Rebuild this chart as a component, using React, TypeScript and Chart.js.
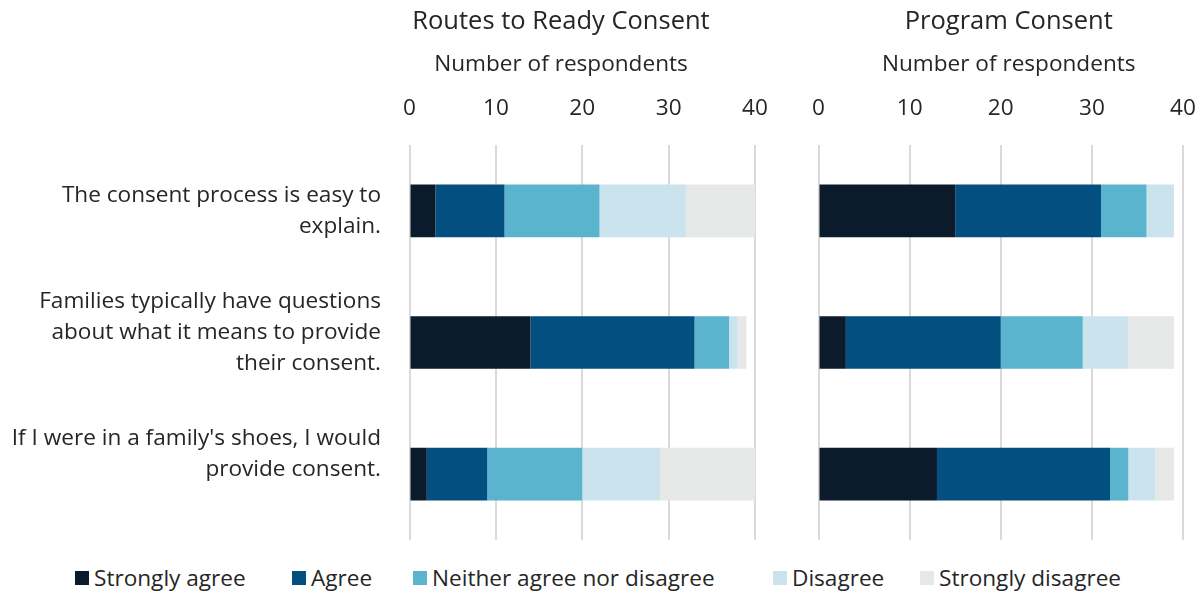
import React, { useEffect, useRef } from "react";
import { Chart, registerables } from "chart.js";

Chart.register(...registerables);

const categories: string[][] = [
  ["The consent process is easy to", "explain."],
  ["Families typically have questions", "about what it means to provide", "their consent."],
  ["If I were in a family's shoes, I would", "provide consent."],
];

const seriesNames = ["Strongly agree", "Agree", "Neither agree nor disagree", "Disagree", "Strongly disagree"];
const seriesColors = ["#0b1b2c", "#034f80", "#5ab4ce", "#cbe3ec", "#e6e7e7"];
const legendSlots = [217, 121, 360, 147, 230];

// Routes to Ready Consent
const rtrStronglyAgree = [3, 14, 2];
const rtrAgree = [8, 19, 7];
const rtrNeither = [11, 4, 11];
const rtrDisagree = [10, 1, 9];
const rtrStronglyDisagree = [8, 1, 11];

// Program Consent
const pcStronglyAgree = [15, 3, 13];
const pcAgree = [16, 17, 19];
const pcNeither = [5, 9, 2];
const pcDisagree = [3, 5, 3];
const pcStronglyDisagree = [0, 5, 2];

const xTicks = [0, 10, 20, 30, 40];
const labelTickValues = [0, 1, 2];
const titles = ["Routes to Ready Consent", "Program Consent"];
const axisTitle = "Number of respondents";

const FONT = "'Open Sans', 'Noto Sans', sans-serif";
const TEXT = "#262626";

function makeConfig(
  title: string,
  series: number[][],
  showLabels: boolean,
  padLeft: number,
  rightWidth: number
): any {
  const scales: any = {
    x: {
      position: "top",
      stacked: true,
      min: 0,
      max: 40,
      afterBuildTicks: (s: any) => {
        s.ticks = xTicks.map((v) => ({ value: v }));
      },
      ticks: {
        color: TEXT,
        padding: 0,
        font: { family: FONT, size: 22.6, lineHeight: 1.2 },
      },
      grid: {
        color: "#dadada",
        lineWidth: 2,
        drawTicks: true,
        tickLength: 23.4,
        tickColor: "rgba(0,0,0,0)",
      },
      border: { display: false },
    },
    y: {
      stacked: true,
      display: false,
    },
  };
  if (showLabels) {
    scales.yL = {
      type: "linear",
      position: "left",
      display: true,
      offset: false,
      reverse: true,
      min: -0.543,
      max: 2.708,
      afterBuildTicks: (s: any) => {
        s.ticks = labelTickValues.map((v) => ({ value: v }));
      },
      afterFit: (s: any) => {
        s.width = 409.5;
        s.paddingTop = 0;
        s.paddingBottom = 0;
      },
      ticks: {
        color: TEXT,
        padding: 28.5,
        font: { family: FONT, size: 22.6, lineHeight: 1.39 },
        autoSkip: false,
        callback: (_v: any, i: number) => categories[i],
      },
      grid: { display: false, drawTicks: false, offset: false },
      border: { display: false },
    };
  }
  scales.yR = {
    type: "category",
    position: "right",
    display: true,
    afterFit: (s: any) => {
      s.width = rightWidth;
      s.paddingTop = 0;
      s.paddingBottom = 0;
    },
    ticks: { display: false },
    grid: { display: false, drawTicks: false },
    border: { display: false },
  };
  return {
    type: "bar",
    data: {
      labels: categories.map((c) => c.join(" ")),
      datasets: series.map((d, i) => ({
        label: seriesNames[i],
        data: d,
        xAxisID: "x",
        yAxisID: "y",
        backgroundColor: seriesColors[i],
        borderWidth: 0,
        barPercentage: 0.4,
        categoryPercentage: 1,
      })),
    },
    options: {
      indexAxis: "y",
      responsive: false,
      animation: false,
      layout: { padding: { left: padLeft, right: 0, top: 0, bottom: 20 } },
      plugins: {
        legend: { display: false },
        tooltip: { enabled: false },
        title: {
          display: true,
          text: title,
          color: TEXT,
          font: { family: FONT, size: 25.5, weight: "normal", lineHeight: 1.2 },
          padding: { top: 6.7, bottom: 8 },
        },
        subtitle: {
          display: true,
          text: axisTitle,
          color: TEXT,
          font: { family: FONT, size: 22.6, weight: "normal", lineHeight: 1.2 },
          padding: { top: 6.1, bottom: 16 },
        },
      },
      scales,
    },
  };
}

function ChartCanvas(props: { width: number; height: number; left: number; config: () => any }) {
  const ref = useRef<HTMLCanvasElement | null>(null);
  useEffect(() => {
    if (!ref.current) return;
    const chart = new Chart(ref.current, props.config());
    return () => chart.destroy();
  }, []);
  return (
    <canvas
      ref={ref}
      width={props.width}
      height={props.height}
      style={{ position: "absolute", left: props.left, top: 0, width: props.width, height: props.height }}
    />
  );
}

export default function App() {
  const legendItems = seriesNames.map((n, i) => (
    <div key={n} style={{ display: "flex", alignItems: "center", width: legendSlots[i], flex: "none" }}>
      <span
        style={{ width: 14, height: 14, background: seriesColors[i], display: "inline-block", marginRight: 5, flex: "none" }}
      />
      <span style={{ whiteSpace: "nowrap" }}>{n}</span>
    </div>
  ));
  return (
    <div
      style={{
        position: "fixed",
        left: 0,
        top: 0,
        width: 1199,
        height: 592,
        overflow: "hidden",
        background: "#fff",
      }}
    >
      <ChartCanvas
        width={1122}
        height={560}
        left={0}
        config={() =>
          makeConfig(
            titles[0],
            [rtrStronglyAgree, rtrAgree, rtrNeither, rtrDisagree, rtrStronglyDisagree],
            true,
            0,
            367
          )
        }
      />
      <ChartCanvas
        width={409}
        height={560}
        left={790}
        config={() =>
          makeConfig(
            titles[1],
            [pcStronglyAgree, pcAgree, pcNeither, pcDisagree, pcStronglyDisagree],
            false,
            409.5 - 381,
            16
          )
        }
      />
      <div
        style={{
          position: "absolute",
          left: 75,
          top: 563,
          width: 1124,
          display: "flex",
          fontFamily: FONT,
          fontSize: 22.6,
          color: TEXT,
          lineHeight: "30px",
        }}
      >
        {legendItems}
      </div>
    </div>
  );
}
